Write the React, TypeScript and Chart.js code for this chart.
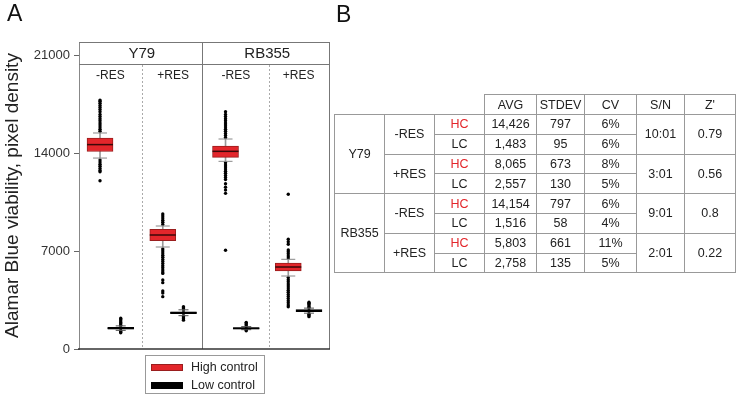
import React, { useEffect, useRef } from 'react';
import { Chart, registerables } from 'chart.js';

Chart.register(...registerables);

const FONT = "'Liberation Sans', Arial, Helvetica, sans-serif";

// ---------- Panel A data ----------
const categories = ['Y79 -RES', 'Y79 +RES', 'RB355 -RES', 'RB355 +RES'];
const groups = ['Y79', 'RB355'];
const conditions = ['-RES', '+RES', '-RES', '+RES'];
const yTicks = [0, 7000, 14000, 21000];
const legendLabels = ['High control', 'Low control'];

// High control box statistics
const hcLow = [13640, 7286, 13407, 5214];
const hcQ1 = [14110, 7736, 13690, 5571];
const hcMed = [14600, 8143, 14120, 5857];
const hcQ3 = [15060, 8550, 14500, 6143];
const hcHigh = [15430, 8786, 15000, 6407];

// Low control box statistics
const lcLow = [1330, 2380, 1380, 2560];
const lcQ1 = [1410, 2520, 1420, 2670];
const lcMed = [1476, 2593, 1476, 2736];
const lcQ3 = [1540, 2660, 1530, 2810];
const lcHigh = [1650, 2800, 1600, 2920];

// Outliers (High control)
const hcOutY79Minus = [15550, 15700, 15850, 16000, 16150, 16300, 16450, 16600, 16750, 16950, 17100, 17250, 17400, 17550, 17700, 17780, 13500, 13350, 13200, 13050, 12900, 12750, 12660, 12020];
const hcOutY79Plus = [8900, 9050, 9200, 9350, 9500, 9650, 7150, 7000, 6850, 6700, 6550, 6400, 6250, 6100, 5950, 5800, 5650, 5500, 5400, 4930, 4740, 4140, 4000, 3740];
const hcOutRB355Minus = [15100, 15250, 15400, 15550, 15700, 15850, 16000, 16150, 16300, 16450, 16600, 16750, 16950, 13300, 13150, 13000, 12850, 12700, 12550, 12400, 12250, 12100, 11800, 11550, 11350, 11120, 7050];
const hcOutRB355Plus = [6500, 6650, 6800, 6950, 7070, 7480, 7660, 7840, 11050, 5100, 4950, 4800, 4650, 4500, 4350, 4200, 4050, 3900, 3750, 3600, 3450, 3300, 3150, 3020];
const hcOutliers = [hcOutY79Minus, hcOutY79Plus, hcOutRB355Minus, hcOutRB355Plus];

// Outliers (Low control)
const lcOutY79Minus = [1700, 1800, 1900, 2000, 2100, 2200, 1280, 1220, 1164];
const lcOutY79Plus = [2870, 2950, 3020, 2300, 2220, 2140, 2060];
const lcOutRB355Minus = [1650, 1750, 1850, 1900, 1350, 1300];
const lcOutRB355Plus = [2980, 3080, 3180, 3260, 3336, 2480, 2400, 2310];
const lcOutliers = [lcOutY79Minus, lcOutY79Plus, lcOutRB355Minus, lcOutRB355Plus];

// ---------- Panel B data ----------
const tableHeader = ['AVG', 'STDEV', 'CV', 'S/N', "Z'"];
const cellLines = ['Y79', 'RB355'];
const treatments = ['-RES', '+RES'];
const controls = ['HC', 'LC'];
const avgValues = ['14,426', '1,483', '8,065', '2,557', '14,154', '1,516', '5,803', '2,758'];
const stdevValues = ['797', '95', '673', '130', '797', '58', '661', '135'];
const cvValues = ['6%', '6%', '8%', '5%', '6%', '4%', '11%', '5%'];
const snValues = ['10:01', '3:01', '9:01', '2:01'];
const zValues = ['0.79', '0.56', '0.8', '0.22'];

const RED = '#e3262b';
const OFF = 0.165;
const hcX = (i: number) => i + 1 - OFF;
const lcX = (i: number) => i + 1 + OFF;

const framePlugin = {
  id: 'facetFrame',
  beforeDatasetsDraw(chart: any) {
    const { ctx, chartArea } = chart;
    const { left, right, top, bottom } = chartArea;
    const x = chart.scales.x;
    const headerBottom = top + 22;
    ctx.save();
    ctx.strokeStyle = '#777';
    ctx.lineWidth = 1;
    ctx.beginPath();
    ctx.moveTo(left, top + 0.5);
    ctx.lineTo(right, top + 0.5);
    ctx.moveTo(left, headerBottom + 0.5);
    ctx.lineTo(right, headerBottom + 0.5);
    ctx.moveTo(right - 0.5, top);
    ctx.lineTo(right - 0.5, bottom);
    const mid = Math.round(x.getPixelForValue(2.46)) + 0.5;
    ctx.moveTo(mid, top);
    ctx.lineTo(mid, bottom);
    ctx.stroke();
    ctx.strokeStyle = '#aaa';
    ctx.setLineDash([2, 2]);
    ctx.beginPath();
    [1.5, 3.53].forEach((v) => {
      const px = Math.round(x.getPixelForValue(v)) + 0.5;
      ctx.moveTo(px, headerBottom + 1);
      ctx.lineTo(px, bottom);
    });
    ctx.stroke();
    ctx.setLineDash([]);
    ctx.fillStyle = '#222';
    ctx.textAlign = 'center';
    ctx.textBaseline = 'middle';
    ctx.font = `15px ${FONT}`;
    groups.forEach((g, gi) => {
      ctx.fillText(g, x.getPixelForValue(gi * 2 + 1.5), top + 11.5);
    });
    ctx.font = `12px ${FONT}`;
    conditions.forEach((c, i) => {
      ctx.fillText(c, x.getPixelForValue(i + 1), top + 34);
    });
    ctx.restore();
  },
  afterDatasetsDraw(chart: any) {
    const { ctx, chartArea } = chart;
    const { left, right, bottom } = chartArea;
    ctx.save();
    ctx.strokeStyle = '#333';
    ctx.lineWidth = 1.5;
    ctx.beginPath();
    ctx.moveTo(left - 1, bottom);
    ctx.lineTo(right, bottom);
    ctx.stroke();
    ctx.restore();
  },
};

export default function App() {
  const ref = useRef<HTMLCanvasElement>(null);

  useEffect(() => {
    const hcOutData: { x: number; y: number }[] = [];
    hcOutliers.forEach((arr, i) => arr.forEach((v) => hcOutData.push({ x: hcX(i), y: v })));
    const lcOutData: { x: number; y: number }[] = [];
    lcOutliers.forEach((arr, i) => arr.forEach((v) => lcOutData.push({ x: lcX(i), y: v })));

    const chart = new Chart(ref.current as HTMLCanvasElement, {
      type: 'scatter',
      data: {
        labels: categories,
        datasets: [
          {
            type: 'scatter', label: 'HC median',
            data: hcMed.map((v, i) => ({ x: hcX(i), y: v })),
            pointStyle: 'line', pointRadius: 13, pointBorderColor: '#3a0808', pointBorderWidth: 1.5,
          },
          {
            type: 'scatter', label: 'LC median',
            data: lcMed.map((v, i) => ({ x: lcX(i), y: v })),
            pointStyle: 'line', pointRadius: 13, pointBorderColor: '#000', pointBorderWidth: 1.5,
          },
          {
            type: 'bar', label: legendLabels[0],
            data: hcQ1.map((v, i) => ({ x: hcX(i), y: [v, hcQ3[i]] })),
            backgroundColor: RED, borderColor: '#9a1e1e', borderWidth: 1, borderSkipped: false,
            barThickness: 26, grouped: false,
          },
          {
            type: 'bar', label: legendLabels[1],
            data: lcQ1.map((v, i) => ({ x: lcX(i), y: [v, lcQ3[i]] })),
            backgroundColor: '#000', borderColor: '#000', borderWidth: 1, borderSkipped: false,
            barThickness: 26, grouped: false,
          },
          {
            type: 'scatter', label: 'HC caps',
            data: [...hcLow.map((v, i) => ({ x: hcX(i), y: v })), ...hcHigh.map((v, i) => ({ x: hcX(i), y: v }))],
            pointStyle: 'line', pointRadius: 7, pointBorderColor: '#888', pointBorderWidth: 1,
          },
          {
            type: 'scatter', label: 'LC caps',
            data: [...lcLow.map((v, i) => ({ x: lcX(i), y: v })), ...lcHigh.map((v, i) => ({ x: lcX(i), y: v }))],
            pointStyle: 'line', pointRadius: 5, pointBorderColor: '#555', pointBorderWidth: 1,
          },
          {
            type: 'bar', label: 'HC stems',
            data: hcLow.map((v, i) => ({ x: hcX(i), y: [v, hcHigh[i]] })),
            backgroundColor: '#999', borderWidth: 0, barThickness: 1, grouped: false,
          },
          {
            type: 'bar', label: 'LC stems',
            data: lcLow.map((v, i) => ({ x: lcX(i), y: [v, lcHigh[i]] })),
            backgroundColor: '#333', borderWidth: 0, barThickness: 2, grouped: false,
          },
          {
            type: 'scatter', label: 'HC outliers', data: hcOutData,
            pointRadius: 1.7, pointBackgroundColor: '#000', pointBorderWidth: 0,
          },
          {
            type: 'scatter', label: 'LC outliers', data: lcOutData,
            pointRadius: 1.7, pointBackgroundColor: '#000', pointBorderWidth: 0,
          },
        ] as any,
      },
      options: {
        responsive: false,
        animation: false,
        devicePixelRatio: 1,
        events: [],
        layout: { autoPadding: false, padding: { left: 0, top: 42, right: 10, bottom: 51 } },
        plugins: { legend: { display: false }, tooltip: { enabled: false }, title: { display: false } },
        scales: {
          x: { type: 'linear', min: 0.5, max: 4.5, display: false, offset: false, grid: { offset: false } },
          y: {
            type: 'linear', min: 0, max: 21930,
            afterBuildTicks: (s: any) => { s.ticks = yTicks.map((v) => ({ value: v })); },
            afterFit: (s: any) => { s.width = 79; },
            ticks: { font: { size: 13, family: FONT }, color: '#333', padding: 4, callback: (v: any) => String(v) },
            grid: { drawOnChartArea: false, drawTicks: true, tickLength: 5, color: '#666' },
            border: { display: true, color: '#888', width: 1 },
            title: {
              display: true, text: 'Alamar Blue viability, pixel density',
              font: { size: 19, family: FONT }, color: '#222', padding: { top: 1, bottom: 0 },
            },
          },
        },
      } as any,
      plugins: [framePlugin],
    });
    return () => chart.destroy();
  }, []);

  const cell: React.CSSProperties = {
    border: '1px solid #999', padding: 0, textAlign: 'center', verticalAlign: 'middle',
    color: '#222', fontSize: 12.5, fontFamily: FONT, lineHeight: '14px',
  };
  const empty: React.CSSProperties = { border: 'none', padding: 0 };

  const rows: React.ReactNode[] = [];
  cellLines.forEach((line, li) => {
    treatments.forEach((tr, ti) => {
      controls.forEach((ctl, ci) => {
        const r = li * 4 + ti * 2 + ci;
        const pair = li * 2 + ti;
        rows.push(
          <tr key={r} style={{ height: 19.8 }}>
            {ti === 0 && ci === 0 && <td rowSpan={4} style={cell}>{line}</td>}
            {ci === 0 && <td rowSpan={2} style={cell}>{tr}</td>}
            <td style={{ ...cell, color: ctl === 'HC' ? RED : '#222' }}>{ctl}</td>
            <td style={cell}>{avgValues[r]}</td>
            <td style={cell}>{stdevValues[r]}</td>
            <td style={cell}>{cvValues[r]}</td>
            {ci === 0 && <td rowSpan={2} style={cell}>{snValues[pair]}</td>}
            {ci === 0 && <td rowSpan={2} style={cell}>{zValues[pair]}</td>}
          </tr>
        );
      });
    });
  });

  return (
    <div style={{ position: 'absolute', left: 0, top: 0, width: 738, height: 400, background: '#fff', fontFamily: FONT, overflow: 'hidden' }}>
      <canvas ref={ref} width={340} height={400} style={{ position: 'absolute', left: 0, top: 0, width: 340, height: 400 }} />
      <div style={{ position: 'absolute', left: 7, top: 2, fontSize: 23, lineHeight: '23px', color: '#111' }}>A</div>
      <div style={{ position: 'absolute', left: 336, top: 3, fontSize: 23, lineHeight: '23px', color: '#111' }}>B</div>

      <div style={{ position: 'absolute', left: 145, top: 355, width: 120, height: 39, border: '1px solid #999', boxSizing: 'border-box' }}>
        <div style={{ position: 'absolute', left: 5, top: 8, width: 32, height: 7, background: RED, border: '1px solid #9a1e1e', boxSizing: 'border-box' }} />
        <div style={{ position: 'absolute', left: 45, top: 4, fontSize: 12.5, lineHeight: '15px', color: '#222', whiteSpace: 'nowrap' }}>{legendLabels[0]}</div>
        <div style={{ position: 'absolute', left: 5, top: 26, width: 32, height: 7, background: '#000' }} />
        <div style={{ position: 'absolute', left: 45, top: 22, fontSize: 12.5, lineHeight: '15px', color: '#222', whiteSpace: 'nowrap' }}>{legendLabels[1]}</div>
      </div>

      <table style={{ position: 'absolute', left: 334, top: 94, width: 401, borderCollapse: 'collapse', tableLayout: 'fixed' }}>
        <colgroup>
          {[50, 50, 50, 52, 48, 52, 48, 51].map((w, i) => <col key={i} style={{ width: w }} />)}
        </colgroup>
        <tbody>
          <tr style={{ height: 20 }}>
            <td style={empty} />
            <td style={empty} />
            <td style={empty} />
            {tableHeader.map((h) => <td key={h} style={cell}>{h}</td>)}
          </tr>
          {rows}
        </tbody>
      </table>
    </div>
  );
}
